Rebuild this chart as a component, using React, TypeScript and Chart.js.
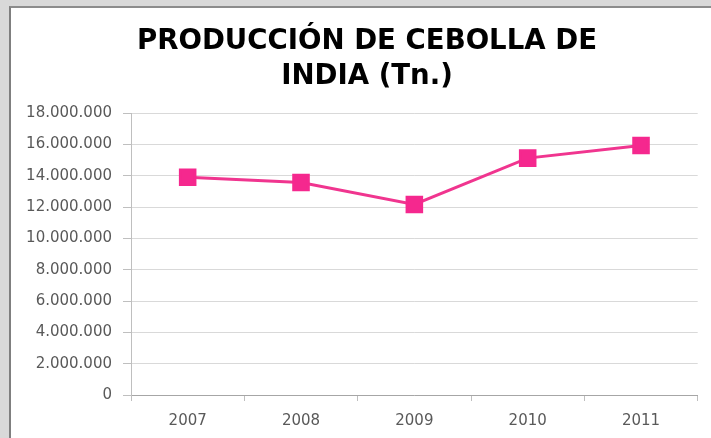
import React, { useEffect, useRef } from "react";
import { Chart, registerables } from "chart.js";

Chart.register(...registerables);

const titleLines = ["PRODUCCIÓN DE CEBOLLA DE", "INDIA (Tn.)"];
const years = ["2007", "2008", "2009", "2010", "2011"];
const production = [13900000, 13560000, 12160000, 15120000, 15930000];
const yMin = 0;
const yMax = 18000000;
const yStep = 2000000;

const formatThousands = (v: number) =>
  String(Math.round(v)).replace(/\B(?=(\d{3})+(?!\d))/g, ".");

const shiftTitle = {
  id: "shiftTitle",
  afterLayout(chart: any) {
    const t = chart.titleBlock;
    if (t) {
      t.left = 34;
      t.right = 700;
    }
  },
};

export default function App() {
  const ref = useRef<HTMLCanvasElement | null>(null);

  useEffect(() => {
    if (!ref.current) return;
    const chart = new Chart(ref.current, {
      type: "line",
      data: {
        labels: years,
        datasets: [
          {
            data: production,
            borderColor: "#f0358f",
            backgroundColor: "#f5288e",
            pointBackgroundColor: "#f5288e",
            pointBorderColor: "#f5288e",
            pointStyle: "rect",
            pointRadius: 10.3,
            pointHoverRadius: 10.3,
            borderWidth: 3,
            tension: 0,
          },
        ],
      },
      options: {
        responsive: false,
        animation: false,
        events: [],
        layout: { padding: { left: 0, right: 12, top: 0, bottom: 0 } },
        plugins: {
          legend: { display: false },
          tooltip: { enabled: false },
          title: {
            display: true,
            text: titleLines,
            color: "#000000",
            font: { family: "DejaVu Sans", weight: "bold", size: 27.6, lineHeight: 1.25 },
            padding: { top: 25, bottom: 19 },
          },
        },
        scales: {
          x: {
            offset: true,
            grid: {
              offset: true,
              drawOnChartArea: false,
              tickLength: 6,
              color: "#bfbfbf",
            },
            border: { color: "#a6a6a6" },
            ticks: {
              font: { family: "DejaVu Sans", size: 15 },
              color: "#595959",
              padding: 11,
              maxRotation: 0,
            },
            afterFit: (s: any) => {
              s.height = 43;
            },
          },
          y: {
            min: yMin,
            max: yMax,
            ticks: {
              stepSize: yStep,
              font: { family: "DejaVu Sans", size: 15 },
              color: "#595959",
              padding: 11,
              callback: (v: any) => formatThousands(Number(v)),
            },
            grid: { color: "#d9d9d9", tickLength: 8, tickColor: "#bfbfbf" },
            border: { color: "#bfbfbf" },
            afterFit: (s: any) => {
              s.width = 131;
            },
          },
        },
      },
      plugins: [shiftTitle],
    });
    return () => chart.destroy();
  }, []);

  return (
    <div style={{ position: "fixed", left: 0, top: 0, right: 0, bottom: 0, background: "#d9d9d9", overflow: "hidden" }}>
      <div
        style={{
          position: "absolute",
          left: 9,
          top: 6,
          right: -10,
          bottom: -10,
          background: "#ffffff",
          borderLeft: "2px solid #7f7f7f",
          borderTop: "2px solid #8c8c8c",
        }}
      />
      <canvas ref={ref} width={711} height={438} style={{ position: "absolute", left: 0, top: 0 }} />
    </div>
  );
}
